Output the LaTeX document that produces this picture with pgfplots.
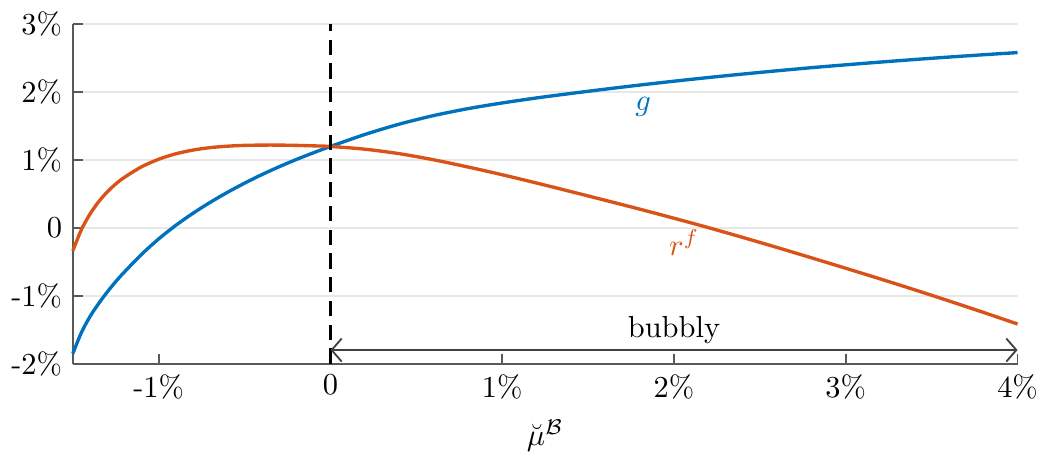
\documentclass[border=0pt]{standalone}
\usepackage{pgfplots}
\pgfplotsset{compat=1.18}
\usetikzlibrary{arrows.meta}
\definecolor{mblue}{rgb}{0,0.447,0.741}
\definecolor{mred}{rgb}{0.85,0.325,0.098}
\begin{document}
\begin{tikzpicture}
\begin{axis}[
  scale only axis, width=310.2pt, height=111.6pt,
  xmin=-1.5, xmax=4, ymin=-2, ymax=3,
  axis lines*=left,
  tick align=inside,
  major tick length=3.3pt,
  axis line style={black!65, line width=0.6pt},
  tick style={black!65, line width=0.6pt},
  xtick={-1,0,1,2,3,4},
  xticklabels={-1\%,0,1\%,2\%,3\%,4\%},
  ytick={-2,-1,0,1,2,3},
  yticklabels={-2\%,-1\%,0,1\%,2\%,3\%},
  ymajorgrids,
  major grid style={black!9, line width=0.6pt},
  xlabel={$\breve{\mu}^{\mathcal{B}}$},
  clip=false,
]
\addplot[mblue, line width=1.1pt, smooth] coordinates {
(-1.5,-1.853) (-1.45,-1.543) (-1.4,-1.308) (-1.35,-1.118) (-1.3,-0.948) (-1.25,-0.793)
(-1.2,-0.653) (-1.1,-0.393) (-1.0,-0.165) (-0.9,0.035) (-0.8,0.213) (-0.7,0.373)
(-0.6,0.520) (-0.5,0.655) (-0.4,0.780) (-0.3,0.895) (-0.2,1.002) (-0.1,1.101)
(0,1.195) (0.2,1.371) (0.4,1.523) (0.6,1.649) (0.8,1.751) (1.0,1.835)
(1.2,1.909) (1.4,1.975) (1.6,2.038) (1.8,2.098) (2.0,2.155) (2.2,2.209)
(2.4,2.260) (2.6,2.308) (2.8,2.354) (3.0,2.396) (3.2,2.436) (3.4,2.474)
(3.6,2.510) (3.8,2.544) (4.0,2.576)
};
\addplot[mred, line width=1.1pt, smooth] coordinates {
(-1.5,-0.34) (-1.45,-0.03) (-1.4,0.20) (-1.35,0.38) (-1.3,0.525) (-1.25,0.643)
(-1.2,0.74) (-1.1,0.895) (-1.0,1.007) (-0.9,1.087) (-0.8,1.142) (-0.7,1.178)
(-0.6,1.199) (-0.5,1.211) (-0.4,1.215) (-0.3,1.215) (-0.2,1.211) (-0.1,1.204)
(0,1.195) (0.2,1.155) (0.4,1.089) (0.6,0.999) (0.8,0.893) (1.0,0.779)
(1.2,0.657) (1.4,0.531) (1.6,0.403) (1.8,0.273) (2.0,0.139) (2.2,0.001)
(2.4,-0.143) (2.6,-0.291) (2.8,-0.443) (3.0,-0.597) (3.2,-0.753) (3.4,-0.913)
(3.6,-1.077) (3.8,-1.245) (4.0,-1.417)
};
\addplot[black, line width=0.75pt, dash pattern=on 5pt off 2.8pt] coordinates {(0,-2) (0,3)};
\addplot[black!75, line width=0.6pt, {Straight Barb[length=3.3pt,width=7.6pt]}-{Straight Barb[length=3.3pt,width=7.6pt]}] coordinates {(0,-1.8) (4,-1.8)};
\node[mblue] at (axis cs:1.82,1.77) {$g$};
\node[mred] at (axis cs:2.06,-0.22) {$r^f$};
\node[anchor=base] at (axis cs:2.0,-1.61) {bubbly};
\coordinate (LL) at (rel axis cs:0,0);
\coordinate (UR) at (rel axis cs:1,1);
\end{axis}
\path (LL) ++(-23.9pt,-28.8pt);
\path (UR) ++(7.3pt,7.8pt);
\end{tikzpicture}
\end{document}
